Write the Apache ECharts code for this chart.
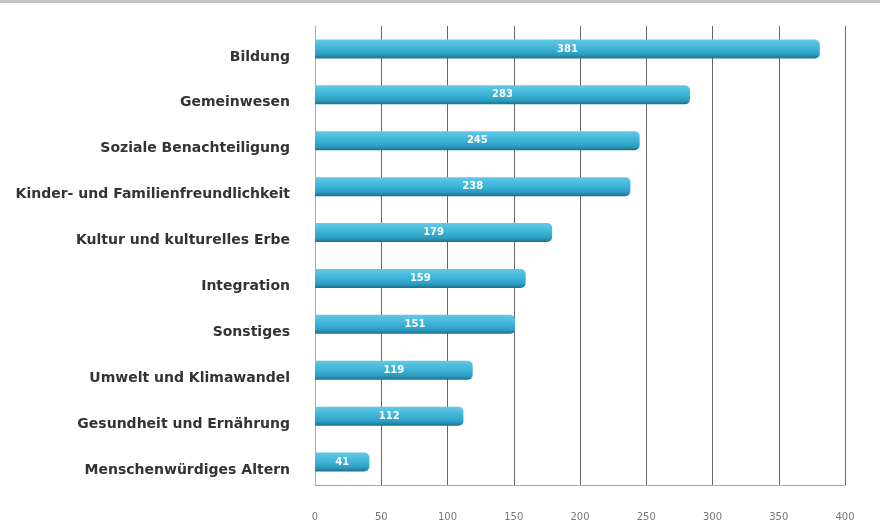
<!DOCTYPE html>
<html>
<head>
<meta charset="utf-8">
<script src="https://cdn.jsdelivr.net/npm/echarts@6/dist/echarts.min.js"></script>
<style>html,body{margin:0;padding:0;background:#fff}#c{width:880px;height:529px}</style>
</head>
<body>
<div id="c"></div>
<script>
const categories = ["Bildung","Gemeinwesen","Soziale Benachteiligung","Kinder- und Familienfreundlichkeit","Kultur und kulturelles Erbe","Integration","Sonstiges","Umwelt und Klimawandel","Gesundheit und Ernährung","Menschenwürdiges Altern"];
const values = [381,283,245,238,179,159,151,119,112,41];
const tickValues = [0,50,100,150,200,250,300,350,400];

const chart = echarts.init(document.getElementById('c'));
chart.setOption({
  animation:false,
  backgroundColor:'#fff',
  graphic:[{type:'rect',shape:{x:0,y:0,width:880,height:3},style:{fill:'#c4c4c4'}}],
  grid:{left:315,right:35,top:26,bottom:44,containLabel:false},
  xAxis:{type:'value',min:0,max:400,interval:50,
    axisLine:{show:true,lineStyle:{color:'#aaa'}},
    axisTick:{show:false},
    axisLabel:{color:'#777',fontSize:10,fontFamily:'DejaVu Sans',margin:27},
    splitLine:{show:true,lineStyle:{color:'#666',width:1}}},
  yAxis:{type:'category',data:categories.slice().reverse(),inverse:false,
    axisLine:{show:true,lineStyle:{color:'#aaa'}},
    axisTick:{show:false},
    axisLabel:{color:'#333',fontSize:14,fontWeight:'bold',fontFamily:'DejaVu Sans',margin:25,verticalAlign:'top',padding:[1,0,0,0]}},
  series:[{type:'bar',data:values.slice().reverse(),barWidth:19,
    itemStyle:{borderRadius:[0,5,5,0],
      color:new echarts.graphic.LinearGradient(0,0,0,1,[
        {offset:0,color:'#62c9e6'},{offset:0.5,color:'#3bb2d6'},{offset:0.8,color:'#2b9cc0'},{offset:1,color:'#1c6f8c'}])},
    label:{show:true,position:'inside',color:'#fff',fontSize:10,fontWeight:'bold',fontFamily:'DejaVu Sans'}}]
});
</script>
</body>
</html>
